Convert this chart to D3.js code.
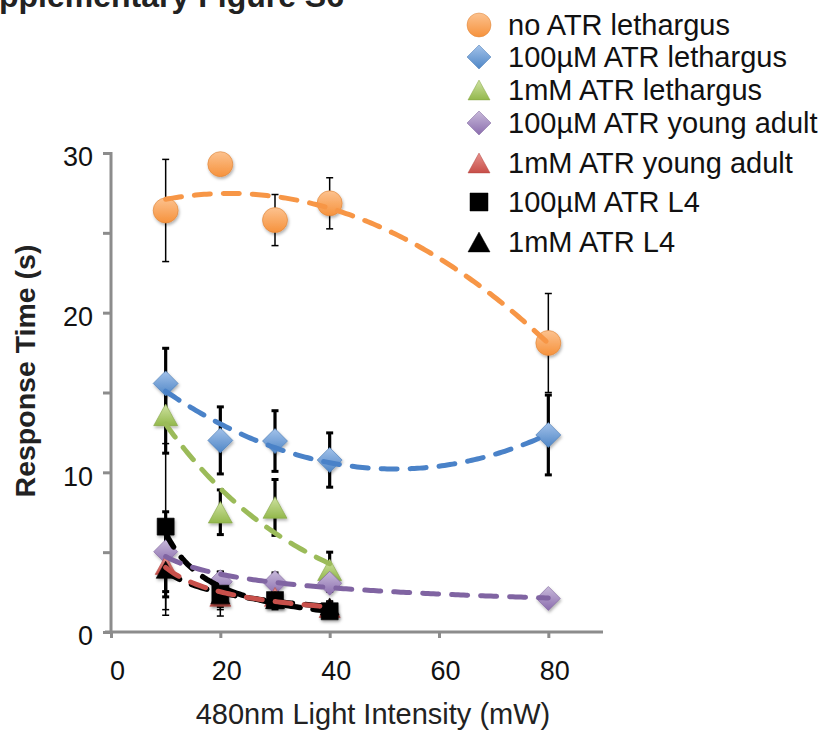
<!DOCTYPE html>
<html>
<head>
<meta charset="utf-8">
<script src="https://cdn.jsdelivr.net/npm/d3@7"></script>
<style>
  html, body { margin: 0; padding: 0; background: #fff; }
  svg { display: block; font-family: "Liberation Sans", Arial, Helvetica, sans-serif; }
</style>
</head>
<body>
<svg id="chart"></svg>
<script>
// light intensity (mW)
const intensity5 = [10, 20, 30, 40, 80];
const intensity4 = [10, 20, 30, 40];

// response times (s) and error bars
const noAtrLeth = [26.4, 29.3, 25.8, 26.85, 18.1];
const noAtrLethErr = [3.2, 0, 1.6, 1.6, 3.1];
const atr100Leth = [15.57, 12.0, 11.96, 10.77, 12.34];
const atr100LethErr = [2.2, 2.1, 1.9, 1.7, 2.5];
const atr1mLeth = [13.6, 7.5, 7.8, 3.9];
const atr1mLethErr = [2.4, 1.4, 1.75, 1.1];
const atr100YA = [5.03, 3.15, 3.1, 3.05, 2.1];
const atr100YAErr = [2.5, 0.6, 0.6, 0.5, 0.3];
const atr1mYA = [4.2, 2.2, 2.2, 1.5];
const atr1mYAErr = [2.0, 0.6, 0.5, 0.4];
const atr100L4 = [6.6, 2.4, 2.0, 1.3];
const atr100L4Err = [5.2, 1.4, 0.6, 0.3];
const atr1mL4 = [3.9, 2.3, 2.0, 1.6];
const atr1mL4Err = [2.85, 0.9, 0.5, 0.3];

const xTicks = [0, 20, 40, 60, 80];
const yTicks = [0, 5, 10, 15, 20, 25, 30];

const series = [
  { name: "no ATR lethargus", x: intensity5, y: noAtrLeth, err: noAtrLethErr, shape: "circle", size: 12.5, top: "#fcc28f", fill: "#f6923c", line: "#f79646", fit: "poly2", thick: false },
  { name: "100\u00b5M ATR lethargus", x: intensity5, y: atr100Leth, err: atr100LethErr, shape: "diamond", size: 12.5, top: "#a3c2ea", fill: "#4f86c6", line: "#4a82c8", fit: "poly2", thick: true },
  { name: "1mM ATR lethargus", x: intensity4, y: atr1mLeth, err: atr1mLethErr, shape: "triangle", size: 12, top: "#cfe2a2", fill: "#93b84c", line: "#9bbb59", fit: "exp", thick: true },
  { name: "100\u00b5M ATR young adult", x: intensity5, y: atr100YA, err: atr100YAErr, shape: "diamond", size: 12, top: "#c8bada", fill: "#8b6dae", line: "#8064a2", fit: "power", thick: true },
  { name: "1mM ATR young adult", x: intensity4, y: atr1mYA, err: atr1mYAErr, shape: "triangle", size: 10.5, top: "#e6918c", fill: "#c84e48", line: "#c8504b", fit: "power", thick: true },
  { name: "100\u00b5M ATR L4", x: intensity4, y: atr100L4, err: atr100L4Err, shape: "square", size: 8.5, top: "#000", fill: "#000", line: "#000", fit: "power", thick: false },
  { name: "1mM ATR L4", x: intensity4, y: atr1mL4, err: atr1mL4Err, shape: "triangle", size: 9.5, top: "#000", fill: "#000", line: "#000", fit: "power", thick: false }
];

const width = 822, height = 730;
const svg = d3.select("#chart").attr("width", width).attr("height", height);

const x = d3.scaleLinear().domain([0, 90]).range([111, 603]);
const y = d3.scaleLinear().domain([0, 30]).range([632, 153]);

// gradients + shadow
const defs = svg.append("defs");
series.forEach((s, i) => {
  const g = defs.append("linearGradient").attr("id", "grad" + i)
    .attr("x1", 0).attr("y1", 0).attr("x2", 0).attr("y2", 1);
  g.append("stop").attr("offset", "0%").attr("stop-color", s.top);
  g.append("stop").attr("offset", "100%").attr("stop-color", s.fill);
});
defs.append("filter").attr("id", "shadow")
  .attr("x", "-50%").attr("y", "-50%").attr("width", "200%").attr("height", "200%")
  .append("feDropShadow")
  .attr("dx", 1).attr("dy", 2).attr("stdDeviation", 1.4)
  .attr("flood-color", "#000").attr("flood-opacity", 0.3);

function shapePath(shape, r) {
  if (shape === "circle") return d3.arc()({ innerRadius: 0, outerRadius: r, startAngle: 0, endAngle: 2 * Math.PI });
  if (shape === "diamond") return `M0,${-r}L${r},0L0,${r}L${-r},0Z`;
  if (shape === "square") return `M${-r},${-r}H${r}V${r}H${-r}Z`;
  // triangle, bounding box centred on the point
  const h = r * 1.8;
  return `M0,${-h / 2}L${r},${h / 2}L${-r},${h / 2}Z`;
}

// trend line fits
function fitFn(type, xs, ys) {
  if (type === "poly2") {
    let S = [0, 0, 0, 0, 0], T = [0, 0, 0];
    xs.forEach((xv, i) => {
      for (let k = 0; k < 5; k++) S[k] += Math.pow(xv, k);
      for (let k = 0; k < 3; k++) T[k] += Math.pow(xv, k) * ys[i];
    });
    const A = [[S[0], S[1], S[2], T[0]], [S[1], S[2], S[3], T[1]], [S[2], S[3], S[4], T[2]]];
    for (let c = 0; c < 3; c++) {
      for (let r = c + 1; r < 3; r++) {
        const f = A[r][c] / A[c][c];
        for (let k = c; k < 4; k++) A[r][k] -= f * A[c][k];
      }
    }
    const coef = [0, 0, 0];
    for (let r = 2; r >= 0; r--) {
      let v = A[r][3];
      for (let k = r + 1; k < 3; k++) v -= A[r][k] * coef[k];
      coef[r] = v / A[r][r];
    }
    return t => coef[0] + coef[1] * t + coef[2] * t * t;
  }
  const X = type === "power" ? xs.map(Math.log) : xs;
  const Y = ys.map(Math.log);
  const mx = d3.mean(X), my = d3.mean(Y);
  const b = d3.sum(X, (v, i) => (v - mx) * (Y[i] - my)) / d3.sum(X, v => (v - mx) * (v - mx));
  const a = my - b * mx;
  return type === "power" ? t => Math.exp(a + b * Math.log(t)) : t => Math.exp(a + b * t);
}

// axes
const axisColor = "#8c8c8c";
const yAxis = svg.append("g").attr("transform", `translate(${x(0)},0)`)
  .call(d3.axisLeft(y).tickValues(yTicks).tickSize(8).tickPadding(10)
    .tickFormat(d => d % 10 === 0 ? d : ""));
const xAxis = svg.append("g").attr("transform", `translate(0,${y(0)})`)
  .call(d3.axisBottom(x).tickValues(xTicks).tickSize(6).tickPadding(23));
[xAxis, yAxis].forEach(a => {
  a.select(".domain").remove();
  a.selectAll(".tick line").attr("stroke", axisColor).attr("stroke-width", 3);
  a.selectAll("text").attr("fill", "#111").style("font-size", "27px")
    .style("font-family", "'Liberation Sans', Arial, sans-serif");
});
yAxis.selectAll("text").attr("dy", "0.48em");
xAxis.selectAll("text").attr("dx", 6);
svg.append("line").attr("x1", x(0)).attr("x2", x(0)).attr("y1", y(30) - 1).attr("y2", y(0))
  .attr("stroke", axisColor).attr("stroke-width", 3);
svg.append("line").attr("x1", x(0) - 6).attr("x2", x(90)).attr("y1", y(0)).attr("y2", y(0))
  .attr("stroke", axisColor).attr("stroke-width", 3);

// error bars
const errG = svg.append("g");
series.forEach(s => {
  s.x.forEach((xv, i) => {
    const e = s.err[i];
    if (!e) return;
    const w = s.thick ? 3.2 : 1.5;
    const g = errG.append("g").attr("stroke", "#000").attr("stroke-width", w);
    g.append("line").attr("x1", x(xv)).attr("x2", x(xv)).attr("y1", y(s.y[i] + e)).attr("y2", y(s.y[i] - e));
    [s.y[i] + e, s.y[i] - e].forEach(v => {
      g.append("line").attr("x1", x(xv) - 3.5).attr("x2", x(xv) + 3.5).attr("y1", y(v)).attr("y2", y(v))
        .attr("stroke-width", s.thick ? 3 : 1.5);
    });
  });
});

// markers
series.forEach((s, si) => {
  svg.append("g").selectAll("path").data(s.x.map((xv, i) => [xv, s.y[i]])).join("path")
    .attr("transform", d => `translate(${x(d[0])},${y(d[1])})`)
    .attr("d", shapePath(s.shape, s.size))
    .attr("fill", `url(#grad${si})`)
    .attr("stroke", d3.color(s.fill).darker(0.3))
    .attr("stroke-width", 0.6)
    .attr("filter", "url(#shadow)");
});

// trend lines (black ones underneath)
const trendOrder = [5, 6, 0, 1, 2, 3, 4];
const line = d3.line().x(d => x(d[0])).y(d => y(d[1]));
trendOrder.forEach(si => {
  const s = series[si];
  const f = fitFn(s.fit, s.x, s.y);
  const pts = d3.range(d3.min(s.x), d3.max(s.x) + 0.01, 0.5).map(t => [t, f(t)]);
  svg.append("path").datum(pts)
    .attr("d", line)
    .attr("fill", "none")
    .attr("stroke", s.line)
    .attr("stroke-width", s.line === "#000" ? 5.5 : 5)
    .attr("stroke-linecap", "round")
    .attr("stroke-dasharray", "16 13");
});

// legend
const legendY = [25, 57, 90, 123, 163, 202, 242];
const legend = svg.append("g");
series.forEach((s, si) => {
  const g = legend.append("g").attr("transform", `translate(479,${legendY[si]})`);
  g.append("path").attr("d", shapePath(s.shape, s.shape === "square" ? 9 : (s.shape === "triangle" ? 11 : 12)))
    .attr("fill", `url(#grad${si})`)
    .attr("stroke", d3.color(s.fill).darker(0.3)).attr("stroke-width", 0.5);
  g.append("text").attr("x", 29).attr("y", 10)
    .style("font-size", "29px").attr("fill", "#111").text(s.name);
});

// axis titles
svg.append("text").attr("x", 373).attr("y", 724).attr("text-anchor", "middle")
  .style("font-size", "29px").attr("fill", "#222").text("480nm Light Intensity (mW)");
svg.append("text").attr("transform", "translate(35,371) rotate(-90)").attr("text-anchor", "middle")
  .style("font-size", "28.5px").style("font-weight", "bold").attr("fill", "#222").text("Response Time (s)");

// figure title, cropped at the top-left like the source
svg.append("text").attr("x", 344).attr("y", 7).attr("text-anchor", "end")
  .style("font-size", "32px").style("font-weight", "bold").attr("fill", "#222")
  .text("Supplementary Figure S6");
</script>
</body>
</html>
